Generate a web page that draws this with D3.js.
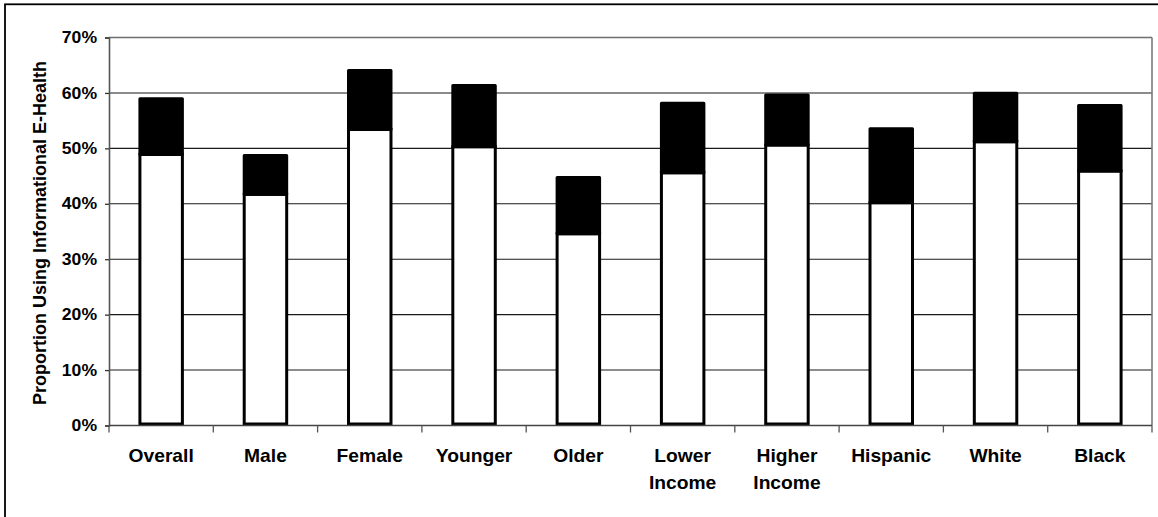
<!DOCTYPE html>
<html>
<head>
<meta charset="utf-8">
<script src="https://cdn.jsdelivr.net/npm/d3@7"></script>
<style>
  html, body { margin: 0; padding: 0; background: #fff; }
  svg { display: block; }
  text { font-family: "Liberation Sans", Arial, Helvetica, sans-serif; font-weight: bold; fill: #000; }
</style>
</head>
<body>
<svg id="chart" width="1158" height="517"></svg>
<script>
// ---- data ----
const categories = ["Overall", "Male", "Female", "Younger", "Older", "Lower Income", "Higher Income", "Hispanic", "White", "Black"];
const categoryLines = [["Overall"], ["Male"], ["Female"], ["Younger"], ["Older"], ["Lower", "Income"], ["Higher", "Income"], ["Hispanic"], ["White"], ["Black"]];
const lowerValues = [0.489, 0.417, 0.534, 0.503, 0.346, 0.456, 0.506, 0.402, 0.512, 0.459]; // white segment
const totalValues = [0.592, 0.490, 0.643, 0.616, 0.450, 0.584, 0.599, 0.538, 0.602, 0.580]; // top of black segment
const yTicks = [0, 0.1, 0.2, 0.3, 0.4, 0.5, 0.6, 0.7];
const yLabel = "Proportion Using Informational E-Health";

// ---- layout ----
const svg = d3.select("#chart");
const pLeft = 109, pRight = 1152, pTop = 37.5, pBottom = 425.5;
const x = d3.scaleBand().domain(categories).range([pLeft, pRight]).paddingInner(0.564).paddingOuter(0.282);
const y = d3.scaleLinear().domain([0, 0.7]).range([pBottom, pTop]);
const sx = 1.1; // horizontal text stretch

// outer frame (open on right/bottom like the reference crop)
svg.append("rect").attr("x", 5).attr("y", 4.3).attr("width", 2000).attr("height", 2000)
  .attr("fill", "none").attr("stroke", "#000").attr("stroke-width", 1.8);

// gridlines
svg.append("g").selectAll("line").data(yTicks.filter(d => d > 0)).join("line")
  .attr("x1", pLeft).attr("x2", pRight)
  .attr("y1", d => y(d)).attr("y2", d => y(d))
  .attr("stroke", d => d === 0.7 ? "#6e6e6e" : "#1a1a1a").attr("stroke-width", d => d === 0.7 ? 1.6 : 1.1);

// right plot border
svg.append("line").attr("x1", pRight).attr("x2", pRight).attr("y1", pTop).attr("y2", pBottom)
  .attr("stroke", "#7a7a7a").attr("stroke-width", 1.6);

// y axis
const yAxis = svg.append("g").attr("transform", `translate(${pLeft},0)`)
  .call(d3.axisLeft(y).tickValues(yTicks).tickFormat(d3.format(".0%")).tickSize(4).tickPadding(8));
yAxis.select(".domain").attr("stroke", "#555").attr("stroke-width", 1.6);
yAxis.selectAll(".tick line").attr("stroke", "#333").attr("stroke-width", 1.3);
yAxis.selectAll(".tick text")
  .attr("font-size", 16).attr("font-family", null)
  .attr("x", -12 / sx).attr("transform", `scale(${sx},1)`);

// bars: white lower segment
const sw = 3;
const bars = svg.append("g");
bars.selectAll("rect.lower").data(categories).join("rect").attr("class", "lower")
  .attr("x", d => x(d) + sw / 2)
  .attr("width", x.bandwidth() - sw)
  .attr("y", (d, i) => y(lowerValues[i]))
  .attr("height", (d, i) => y(0) - y(lowerValues[i]) - sw / 2)
  .attr("fill", "#fff").attr("stroke", "#000").attr("stroke-width", sw);
// black upper segment
bars.selectAll("rect.upper").data(categories).join("rect").attr("class", "upper")
  .attr("x", d => x(d) + sw / 2)
  .attr("width", x.bandwidth() - sw)
  .attr("y", (d, i) => y(totalValues[i]) + sw / 2)
  .attr("height", (d, i) => y(lowerValues[i]) - y(totalValues[i]) - sw / 2)
  .attr("fill", "#000").attr("stroke", "#000").attr("stroke-width", sw).attr("stroke-linejoin", "round");

// x axis line and boundary ticks
svg.append("line").attr("x1", pLeft).attr("x2", pRight).attr("y1", pBottom).attr("y2", pBottom)
  .attr("stroke", "#444").attr("stroke-width", 1.5);
const boundaries = d3.range(categories.length + 1).map(i => pLeft + i * x.step());
svg.append("g").selectAll("line").data(boundaries).join("line")
  .attr("x1", d => d).attr("x2", d => d).attr("y1", pBottom).attr("y2", pBottom + 7)
  .attr("stroke", "#555").attr("stroke-width", 1.3);

// category labels
const lab = svg.append("g").selectAll("g").data(categories).join("g")
  .attr("transform", d => `translate(${x(d) + x.bandwidth() / 2},461.8) scale(${sx},1)`);
lab.each(function (d, i) {
  const t = d3.select(this).append("text").attr("text-anchor", "middle").attr("font-size", 17.5);
  categoryLines[i].forEach((ln, j) => {
    t.append("tspan").attr("x", 0).attr("y", j * 27.5).text(ln);
  });
});

// y axis title
svg.append("text")
  .attr("transform", `translate(46,233)rotate(-90)`)
  .attr("text-anchor", "middle").attr("font-size", 18)
  .text(yLabel);
</script>
</body>
</html>
